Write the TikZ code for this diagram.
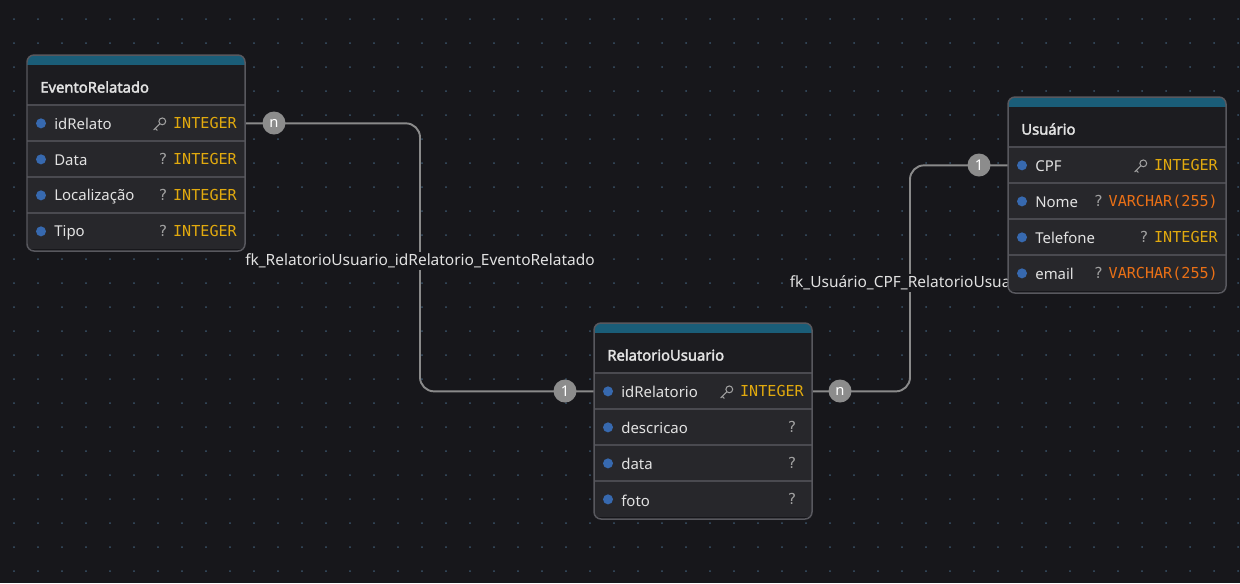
\documentclass[tikz,border=0pt]{standalone}
\usepackage{fontspec}
\setmainfont{Noto Sans}
\setmonofont{DejaVu Sans Mono}
\newfontfamily\titlefont{Noto Sans}[FakeBold=2.5]
\definecolor{bgcol}{RGB}{23,23,27}
\definecolor{dotcol}{RGB}{58,84,106}
\definecolor{headcol}{RGB}{28,28,32}
\definecolor{rowcol}{RGB}{39,39,43}
\definecolor{bordercol}{RGB}{88,88,94}
\definecolor{sepcol}{RGB}{74,74,80}
\definecolor{tealcol}{RGB}{26,93,120}
\definecolor{bulletcol}{RGB}{55,105,175}
\definecolor{namecol}{RGB}{226,226,226}
\definecolor{qcol}{RGB}{160,160,160}
\definecolor{intcol}{RGB}{226,170,14}
\definecolor{varcol}{RGB}{234,112,22}
\definecolor{linkcol}{RGB}{138,138,138}
\definecolor{circcol}{RGB}{140,140,140}
\pgfdeclarelayer{bg}
\pgfdeclarelayer{lines}
\pgfdeclarelayer{labels}
\pgfsetlayers{bg,lines,labels,main}
\tikzset{
  rowbox/.style={fill=rowcol, minimum width=4.36cm, minimum height=0.72cm, inner sep=0, anchor=north west},
  fieldname/.style={text=namecol, inner sep=0, anchor=west, font=\fontsize{8.5}{10}\selectfont},
  fieldtype/.style={inner sep=0, anchor=east, font=\ttfamily\fontsize{8.6}{10}\selectfont},
  qmark/.style={text=qcol, inner sep=0, anchor=east, font=\ttfamily\fontsize{8.6}{10}\selectfont},
  tabletitle/.style={text=namecol, inner sep=0, anchor=west, font=\titlefont\fontsize{8.4}{10}\selectfont},
  sepline/.style={draw=sepcol, line width=0.85pt},
  keyline/.style={draw=qcol, line width=0.6pt},
  link/.style={draw=linkcol, line width=1.1pt},
  card/.style={circle, fill=circcol, text=white, minimum size=0.46cm, inner sep=0, font=\fontsize{8.4}{10}\selectfont},
  fklabel/.style={fill=bgcol, text=namecol, inner sep=1pt, font=\fontsize{8.8}{10}\selectfont}
}
\newcommand{\inttype}{\color{intcol}INTEGER}
\newcommand{\vartype}{\color{varcol}VARCHAR(255)}
\def\kk{k}
% id, x0, y0, title, rows
\newcommand{\ertable}[5]{%
  \begin{scope}[shift={(#2,#3)}]
    \begin{scope}
      \clip[rounded corners=4] (0,0) rectangle (218,196);
      \fill[headcol] (0,0) rectangle (218,50);
      \fill[tealcol] (0,0) rectangle (218,10);
      \foreach \fname/\ftype/\fkey [count=\i] in {#5} {
        \node[rowbox] (#1-\i) at (0,{50+36*(\i-1)}) {};
        \draw[sepline] (#1-\i.north west) -- (#1-\i.north east);
        \fill[bulletcol] ([xshift=0.28cm]#1-\i.west) circle[radius=0.1cm];
        \node[fieldname] (#1-\i-name) at ([xshift=0.54cm,yshift=-0.02cm]#1-\i.west) {\fname};
        \node[fieldtype] (#1-\i-type) at ([xshift=-0.17cm]#1-\i.east) {\ftype};
        \ifx\fkey\kk
          \begin{scope}[shift={(#1-\i-type.west)}]
            \draw[keyline] (-10.5,-2) circle[radius=0.068cm];
            \draw[keyline, line cap=round] (-13,0.5) -- (-19,6.5) (-17.5,5) -- (-15.5,7);
          \end{scope}
        \else
          \node[qmark] at ([xshift=-0.1cm]#1-\i-type.west) {?};
        \fi
      }
    \end{scope}
    \node[tabletitle] (#1-title) at (13,32) {#4};
    \draw[draw=bordercol, line width=0.85pt, rounded corners=4] (0,0) rectangle (218,196);
  \end{scope}
}
\begin{document}
\begin{tikzpicture}[x=0.02cm,y=-0.02cm]
\begin{pgfonlayer}{bg}
  \fill[bgcol] (0,0) rectangle (1240,583);
  \foreach \gx in {14,38,...,1240}
    \foreach \gy in {19,43,...,583}
      \fill[dotcol] (\gx,\gy) circle[radius=0.02cm];
\end{pgfonlayer}
\useasboundingbox (0,0) rectangle (1240,583);

\ertable{ev}{27}{55}{EventoRelatado}{idRelato/\inttype/k, Data/\inttype/q, Localização/\inttype/q, Tipo/\inttype/q}
\ertable{us}{1008}{97}{Usuário}{CPF/\inttype/k, Nome/\vartype/q, Telefone/\inttype/q, email/\vartype/q}
\ertable{ru}{594}{323}{RelatorioUsuario}{idRelatorio/\inttype/k, descricao//q, data//q, foto//q}

\coordinate (bendA) at (420,261);
\coordinate (bendB) at (910,283);

\begin{pgfonlayer}{lines}
  \draw[link, rounded corners=8] (ev-1.east) -- (bendA |- ev-1.east) -- (bendA |- ru-1.west) -- (ru-1.west);
  \draw[link, rounded corners=8] (ru-1.east) -- (bendB |- ru-1.east) -- (bendB |- us-1.west) -- (us-1.west);
\end{pgfonlayer}
\begin{pgfonlayer}{labels}
  \node[fklabel] (lblA) at (bendA) {fk\_RelatorioUsuario\_idRelatorio\_EventoRelatado};
  \node[fklabel] (lblB) at (bendB) {fk\_Usuário\_CPF\_RelatorioUsuario};
\end{pgfonlayer}

\node[card] (nA) at (274,123) {n};
\node[card] (oneA) at (565,391) {1};
\node[card] (nB) at (840,391) {n};
\node[card] (oneB) at (979,165) {1};
\end{tikzpicture}
\end{document}
